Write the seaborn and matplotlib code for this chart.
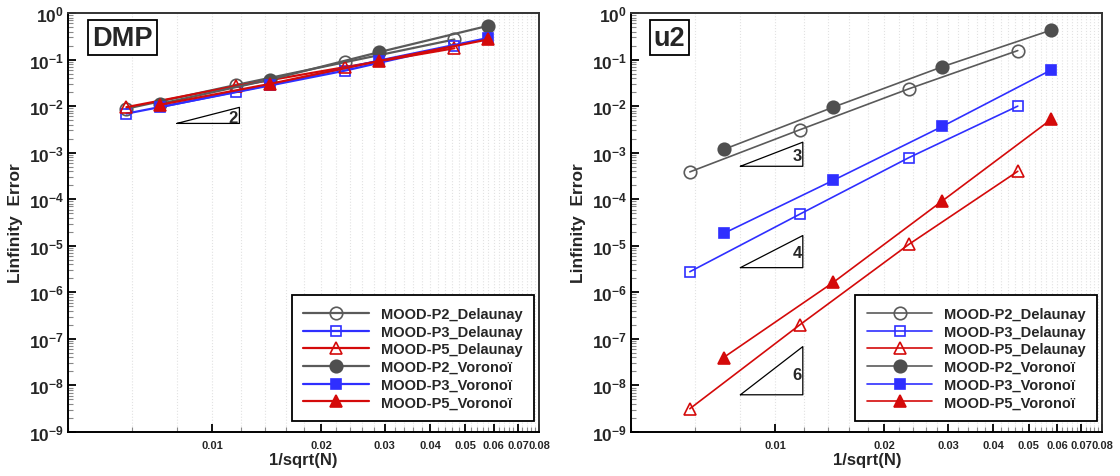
import numpy as np
import matplotlib
matplotlib.use("Agg")
import matplotlib.pyplot as plt
import seaborn as sns
from matplotlib.ticker import FixedLocator, FuncFormatter, NullFormatter

# ---------------- data ----------------
h_delaunay = [0.00580, 0.01167, 0.02335, 0.0467]
h_voronoi = [0.00719, 0.01445, 0.0289, 0.0578]

series_labels = ["MOOD-P2_Delaunay", "MOOD-P3_Delaunay", "MOOD-P5_Delaunay",
                 "MOOD-P2_Voronoï", "MOOD-P3_Voronoï", "MOOD-P5_Voronoï"]

dmp_p2_del = [8.8e-3, 2.86e-2, 8.8e-2, 0.27]
dmp_p3_del = [6.9e-3, 2.0e-2, 5.8e-2, 0.20]
dmp_p5_del = [9.5e-3, 2.7e-2, 6.9e-2, 0.175]
dmp_p2_vor = [1.12e-2, 3.7e-2, 0.144, 0.53]
dmp_p3_vor = [9.5e-3, 2.86e-2, 9.5e-2, 0.29]
dmp_p5_vor = [1.07e-2, 3.0e-2, 9.3e-2, 0.27]

u2_p2_del = [3.86e-4, 3.1e-3, 2.35e-2, 0.156]
u2_p3_del = [2.77e-6, 4.77e-5, 7.8e-4, 1.0e-2]
u2_p5_del = [3.16e-9, 2.0e-7, 1.07e-5, 3.98e-4]
u2_p2_vor = [1.17e-3, 9.5e-3, 7.0e-2, 0.43]
u2_p3_vor = [1.84e-5, 2.55e-4, 3.66e-3, 6.0e-2]
u2_p5_vor = [3.98e-8, 1.64e-6, 9.2e-5, 5.2e-3]

# slope triangles: (x_left, x_right, y_bottom, slope, label_x, label_y)
dmp_slopes = [(0.0080, 0.0119, 4.25e-3, 2, 0.01146, 5.8e-3)]
u2_slopes = [(0.0080, 0.0119, 5.1e-4, 3, 0.01147, 8.8e-4),
             (0.0080, 0.0119, 3.39e-6, 4, 0.01147, 7.2e-6),
             (0.0080, 0.0119, 6.3e-9, 6, 0.01147, 1.7e-8)]

x_major = [0.01, 0.02, 0.03, 0.04, 0.05, 0.06, 0.07, 0.08]
x_major_labels = ["0.01", "0.02", "0.03", "0.04", "0.05", "0.06", "0.07", "0.08"]
y_exponents = list(range(-9, 1))

# ---------------- style ----------------
sns.set_style("white")
plt.rcParams["font.family"] = ["Liberation Sans", "DejaVu Sans"]
plt.rcParams["mathtext.fontset"] = "custom"
plt.rcParams["mathtext.rm"] = "Liberation Sans"
plt.rcParams["mathtext.bf"] = "Liberation Sans:bold"
plt.rcParams["font.weight"] = "bold"

GREY = "#5a5a5a"
GREY_FILL = "#4f4f4f"
BLUE = "#2f2fff"
RED = "#d40a0a"

styles = [
    dict(color=GREY, marker="o", mfc="none", mec=GREY, ms=9.0),
    dict(color=BLUE, marker="s", mfc="none", mec=BLUE, ms=7.0),
    dict(color=RED, marker="^", mfc="none", mec=RED, ms=8.0),
    dict(color=GREY, marker="o", mfc=GREY_FILL, mec=GREY_FILL, ms=9.0),
    dict(color=BLUE, marker="s", mfc=BLUE, mec=BLUE, ms=7.0),
    dict(color=RED, marker="^", mfc=RED, mec=RED, ms=8.0),
]

fig = plt.figure(figsize=(11.2, 4.77), dpi=100)
axL = fig.add_axes([68 / 1120, 44 / 477, 471 / 1120, 419 / 477])
axR = fig.add_axes([631.4 / 1120, 44 / 477, 471 / 1120, 419 / 477])

panels = [
    (axL, "DMP", 0.116, [dmp_p2_del, dmp_p3_del, dmp_p5_del, dmp_p2_vor, dmp_p3_vor, dmp_p5_vor], dmp_slopes, 1.6),
    (axR, "u2", 0.081, [u2_p2_del, u2_p3_del, u2_p5_del, u2_p2_vor, u2_p3_vor, u2_p5_vor], u2_slopes, 1.2),
]

minor_x = [v for v in np.arange(0.004, 0.0801, 0.002) if not any(abs(v - m) < 1e-9 for m in x_major)]
y_major = [10.0 ** e for e in y_exponents]
y_minor = [m * 10.0 ** e for e in y_exponents[:-1] for m in range(2, 10)]

for ax, tag, tag_x, ys, slopes, lw in panels:
    for i, (yv, st, lab) in enumerate(zip(ys, styles, series_labels)):
        xv = h_delaunay if i < 3 else h_voronoi
        sns.lineplot(x=xv, y=yv, ax=ax, color=st["color"], marker=st["marker"],
                     markerfacecolor=st["mfc"], markeredgecolor=st["mec"],
                     markersize=st["ms"], markeredgewidth=1.2, linewidth=lw,
                     label=lab, zorder=3 + i)
    ax.set_xscale("log")
    ax.set_yscale("log")
    ax.set_xlim(0.004, 0.08)
    ax.set_ylim(1e-9, 1.0)

    ax.xaxis.set_major_locator(FixedLocator(x_major))
    ax.xaxis.set_major_formatter(FuncFormatter(lambda v, p: x_major_labels[x_major.index(min(x_major, key=lambda m: abs(m - v)))]))
    ax.xaxis.set_minor_locator(FixedLocator(minor_x))
    ax.xaxis.set_minor_formatter(NullFormatter())
    ax.yaxis.set_major_locator(FixedLocator(y_major))
    ax.yaxis.set_major_formatter(FuncFormatter(lambda v, p: r"$\mathbf{10^{%d}}$" % int(round(np.log10(v)))))
    ax.yaxis.set_minor_locator(FixedLocator(y_minor))
    ax.yaxis.set_minor_formatter(NullFormatter())

    ax.tick_params(axis="both", which="major", direction="in", length=6, width=1.3, color="black",
                   top=False, right=False, bottom=True, left=True)
    ax.tick_params(axis="both", which="minor", direction="in", length=3.5, width=0.8, color="#888888",
                   top=False, right=False, bottom=True, left=True)
    ax.tick_params(axis="x", which="major", labelsize=8, pad=6)
    ax.tick_params(axis="y", which="major", labelsize=12.5, pad=3)
    for lbl in ax.get_xticklabels():
        lbl.set_fontweight("bold")

    ax.grid(True, axis="x", which="both", color="#e2e2e2", linestyle=":", linewidth=0.8)
    ax.grid(False, axis="y")
    for side in ["left", "bottom", "top", "right"]:
        ax.spines[side].set_visible(True)
        ax.spines[side].set_color("black" if side in ("left", "bottom") else "#333333")
        ax.spines[side].set_linewidth(1.4)

    ax.set_xlabel("1/sqrt(N)", fontsize=12, fontweight="bold", labelpad=1.5)
    ax.set_ylabel("Linfinity  Error", fontsize=12.5, fontweight="bold", labelpad=4)

    ax.text(tag_x, 0.9415, tag, transform=ax.transAxes, fontsize=19.5, fontweight="bold",
            ha="center", va="center", zorder=10,
            bbox=dict(boxstyle="square,pad=0.15", fc="white", ec="black", lw=1.3))

    for (x0, x1, y0, s, lx, ly) in slopes:
        y1 = y0 * (x1 / x0) ** s
        ax.plot([x0, x1, x1, x0], [y0, y0, y1, y0], color="black", lw=0.9, zorder=2)
        ax.text(lx, ly, str(s), fontsize=12, fontweight="bold", ha="center", va="center", zorder=2)

    leg = ax.legend(loc="lower right", bbox_to_anchor=(1 - 5 / 471, 11 / 419), borderaxespad=0,
                    frameon=True, fancybox=False, framealpha=1, edgecolor="black",
                    prop=dict(size=10.5, weight="bold"), handlelength=4.5, handletextpad=0.8,
                    labelspacing=0.25, borderpad=0.8)
    leg.get_frame().set_linewidth(1.3)

fig.savefig("out.png", dpi=100, facecolor="white")
